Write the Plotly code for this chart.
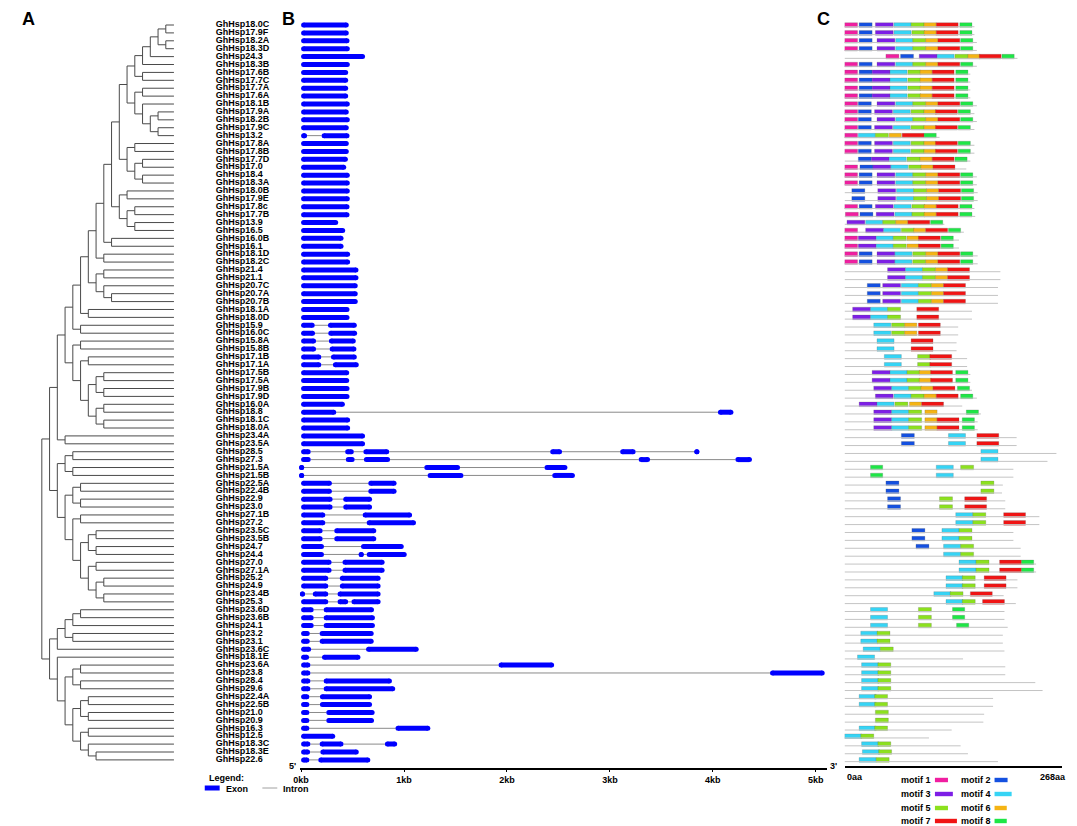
import plotly.graph_objects as go

# reference canvas size; the page places the figure 8 px in from the top-left corner
W_REF, H_REF = 1077, 826
OFF = 8
W, H = W_REF - OFF, H_REF - OFF
FONT = "Arial, 'Liberation Sans', sans-serif"

# ---------------- data ----------------
gene_ids = ["18.0C", "17.9F", "18.2A", "18.3D", "24.3", "18.3B", "17.6B", "17.7C", "17.7A", "17.6A",
            "18.1B", "17.9A", "18.2B", "17.9C", "13.2", "17.8A", "17.8B", "17.7D", "17.0", "18.4",
            "18.3A", "18.0B", "17.9E", "17.8c", "17.7B", "13.9", "16.5", "16.0B", "16.1", "18.1D",
            "18.2C", "21.4", "21.1", "20.7C", "20.7A", "20.7B", "18.1A", "18.0D", "15.9", "16.0C",
            "15.8A", "15.8B", "17.1B", "17.1A", "17.5B", "17.5A", "17.9B", "17.9D", "16.0A", "18.8",
            "18.1C", "18.0A", "23.4A", "23.5A", "28.5", "27.3", "21.5A", "21.5B", "22.5A", "22.4B",
            "22.9", "23.0", "27.1B", "27.2", "23.5C", "23.5B", "24.7", "24.4", "27.0", "27.1A",
            "25.2", "24.9", "23.4B", "25.3", "23.6D", "23.6B", "24.1", "23.2", "23.1", "23.6C",
            "18.1E", "23.6A", "23.8", "28.4", "29.6", "22.4A", "22.5B", "21.0", "20.9", "16.3",
            "12.5", "18.3C", "18.3E", "22.6"]
gene_labels = ["GhHsp" + g for g in gene_ids]

# phylogeny (topology, Newick pieces)
clade_u1 = "((((((18.0C,17.9F),(18.2A,18.3D)),24.3),18.3B),(17.6B,17.7C)),((17.7A,17.6A),(18.1B,((17.9A,18.2B),(17.9C,13.2)))))"
clade_u2 = "((17.8A,17.8B),((17.7D,17.0),(18.4,18.3A)))"
clade_u3 = "((18.0B,17.9E),((17.8c,17.7B),(13.9,16.5)))"
clade_7b = "((21.4,21.1),(20.7C,(20.7A,20.7B)))"
clade_6b = "(((17.5B,17.5A),(17.9B,17.9D)),((16.0A,18.8),(18.1C,18.0A)))"
clade_3b = "((28.5,27.3),(21.5A,21.5B))"
clade_4c = "((22.5A,22.4B),(22.9,23.0))"
clade_5c = "(((23.5C,23.5B),(24.7,24.4)),((27.0,27.1A),((25.2,24.9),(23.4B,25.3))))"
clade_2c = "((((23.6D,23.6B),24.1),(23.2,23.1)),23.6C)"
clade_2d = "(18.1E,(((23.6A,23.8),(28.4,29.6)),(((22.4A,22.5B),(21.0,20.9)),((16.3,12.5),(18.3C,(18.3E,22.6))))))"

clade_9a = "((" + clade_u1 + "," + clade_u2 + ")," + clade_u3 + ")"
clade_8a = "(" + clade_9a + ",(16.0B,16.1))"
clade_7a = "(" + clade_8a + ",(18.1D,18.2C))"
clade_5a = "((" + clade_7a + "," + clade_7b + "),(18.1A,18.0D))"
clade_4a = "(" + clade_5a + ",(15.9,16.0C))"
clade_4b = "((15.8A,15.8B),((17.1B,17.1A)," + clade_6b + "))"
clade_2a = "((" + clade_4a + "," + clade_4b + "),(23.4A,23.5A))"
clade_2b = "(" + clade_3b + ",(" + clade_4c + ",((27.1B,27.2)," + clade_5c + ")))"
tree_newick = "((" + clade_2a + "," + clade_2b + "),(" + clade_2c + "," + clade_2d + "))"

# gene structure: exons (kb)
exons = [
    [(0, .463)], [(0, .463)], [(0, .47)], [(0, .473)], [(0, .621)], [(0, .473)], [(0, .457)], [(0, .457)],
    [(0, .457)], [(0, .457)], [(0, .473)], [(0, .463)], [(0, .473)], [(0, .463)], [(0, .058), (.199, .47)],
    [(0, .463)], [(0, .463)], [(0, .454)], [(0, .438)], [(0, .473)], [(0, .473)], [(0, .473)], [(0, .473)],
    [(0, .47)], [(0, .47)], [(0, .36)], [(0, .428)], [(0, .412)], [(0, .412)], [(0, .476)], [(0, .476)],
    [(0, .557)], [(0, .557)], [(0, .55)], [(0, .55)], [(0, .55)], [(0, .47)], [(0, .47)],
    [(0, .132), (.261, .541)], [(0, .135), (.264, .544)], [(0, .145), (.27, .531)], [(0, .145), (.277, .537)],
    [(0, .196), (.29, .541)], [(0, .196), (.309, .56)], [(0, .467)], [(0, .467)], [(0, .47)], [(0, .47)],
    [(0, .425)], [(0, .341), (4.05, 4.2)], [(0, .476)], [(0, .476)], [(0, .621)], [(0, .621)],
    [(0, .093), (.428, .512), (.605, .856), (2.42, 2.535), (3.1, 3.25), (3.83, 3.86)],
    [(0, .093), (.434, .52), (.61, .864), (3.28, 3.39), (4.22, 4.38)],
    [(0, .01), (1.197, 1.544), (2.365, 2.587)], [(0, .01), (1.229, 1.577), (2.44, 2.66)],
    [(0, .299), (.653, .927)], [(0, .299), (.653, .927)], [(0, .306), (.409, .689)], [(0, .306), (.409, .689)],
    [(0, .235), (.598, 1.078)], [(0, .235), (.637, 1.116)], [(0, .209), (.322, .73)], [(0, .209), (.322, .73)],
    [(0, .222), (.582, .997)], [(0, .222), (.576, .592), (.637, 1.026)], [(0, .296), (.402, .811)],
    [(0, .296), (.402, .811)], [(0, .264), (.376, .772)], [(0, .264), (.376, .772)],
    [(0, .026), (.113, .264), (.354, .772)], [(0, .264), (.354, .457), (.489, .772)],
    [(0, .122), (.219, .708)], [(0, .122), (.219, .717)], [(0, .122), (.219, .717)], [(0, .084), (.18, .705)],
    [(0, .084), (.18, .705)], [(0, .097), (.631, 1.142)], [(0, .077), (.203, .576)], [(0, .09), (1.918, 2.458)],
    [(0, .09), (4.556, 5.087)], [(0, .09), (.219, .882)], [(0, .09), (.219, .914)], [(0, .08), (.183, .689)],
    [(0, .08), (.183, .689)], [(0, .08), (.245, .714)], [(0, .08), (.245, .708)], [(0, .08), (.917, 1.255)],
    [(0, .331)], [(0, .09), (.18, .412), (.814, .933)], [(0, .087), (.187, .56)], [(0, .08), (.167, .672)],
]
kb_ticks = [0, 1, 2, 3, 4, 5]
kb_labels = ["0kb", "1kb", "2kb", "3kb", "4kb", "5kb"]

# protein length (aa) and motif start positions (aa), motif 1..8, None = absent
protein_len = [160, 160, 163, 163, 213, 163, 155, 155, 155, 155, 163, 160, 163, 160, 117, 160, 160, 155, 150, 163,
               163, 164, 164, 160, 161, 123, 147, 141, 141, 164, 164, 192, 192, 189, 189, 189, 157, 157, 140, 140,
               138, 138, 151, 151, 155, 155, 157, 163, 145, 168, 164, 164, 212, 212, 261, 250, 208, 208, 195, 194,
               198, 198, 240, 240, 208, 208, 217, 217, 236, 236, 213, 213, 196, 211, 197, 197, 201, 195, 195, 197,
               146, 198, 198, 235, 244, 183, 183, 172, 171, 132, 104, 143, 152, 189]
N = None
motif_starts = [
    [0, 18, 38, 61, 82, 98, 113, 142], [0, 18, 38, 61, 83, 98, 113, 142], [0, 18, 40, 63, 84, 100, 115, 143],
    [0, 18, 40, 63, 84, 100, 115, 143], [51, 69, 92, 114, 136, 152, 166, 194], [0, 18, 40, 63, 84, 100, 115, 143],
    [0, 18, 34, 56, 78, 93, 108, 137], [0, 18, 34, 56, 78, 93, 108, 137], [0, 18, 34, 56, 78, 93, 108, 137],
    [0, 18, 34, 56, 78, 93, 108, 137], [0, 17, 40, 63, 84, 100, 115, 143], [0, 17, 37, 60, 82, 98, 112, 140],
    [0, 17, 40, 63, 84, 100, 115, 143], [0, 17, 37, 60, 82, 98, 112, 140], [0, N, N, 17, 38, 55, 71, 98],
    [0, 17, 37, 60, 82, 98, 112, 140], [0, 17, 37, 60, 82, 98, 112, 140], [N, 17, 33, 55, 77, 93, 108, 136],
    [0, 19, 35, 57, 79, 94, 109, N], [0, 18, 40, 63, 84, 100, 115, 143], [0, 18, 40, 63, 84, 100, 115, 143],
    [N, 9, 41, 64, 85, 101, 116, 144], [N, 9, 41, 64, 85, 101, 116, 144], [0, 18, 38, 61, 83, 98, 113, 142],
    [1, 19, 39, 62, 83, 98, 113, 142], [N, N, 3, 26, 47, 63, 78, 106], [0, N, 26, 48, 70, 85, 100, 128],
    [0, N, 17, 39, 60, 77, 91, 119], [0, N, 17, 39, 60, 77, 91, 119], [0, 18, 40, 62, 84, 100, 115, 143],
    [0, 18, 40, 62, 84, 100, 115, 143], [N, N, 53, 75, 96, 112, 127, N], [N, N, 53, 75, 96, 112, 127, N],
    [N, 28, 47, 70, 91, 107, 122, N], [N, 28, 47, 70, 91, 107, 122, N], [N, 28, 47, 70, 91, 107, 122, N],
    [N, N, 10, 32, 53, N, 89, N], [N, N, 10, 32, 53, N, 89, N], [N, N, N, 36, 58, 74, 91, N],
    [N, N, N, 36, 58, 74, 91, N], [N, N, N, 40, N, N, 82, N], [N, N, N, 40, N, N, 82, N],
    [N, N, N, 49, 90, N, 105, N], [N, N, N, 49, 90, N, 105, N], [N, N, 34, 56, 77, 92, 106, 137],
    [N, N, 34, 56, 77, 92, 106, 137], [N, N, 36, 58, 79, 94, 109, 139], [N, N, 38, 61, 82, 98, 113, 143],
    [N, N, 18, 40, 62, 80, 95, N], [N, N, 36, 58, 79, 99, N, 150], [N, N, 36, 58, 79, 99, 114, 145],
    [N, N, 36, 58, 79, 99, 114, 145], [N, 70, N, 128, N, N, 163, N], [N, 70, N, 128, N, N, 163, N],
    [N, N, N, 168, N, N, N, N], [N, N, N, 168, N, N, N, N], [N, N, N, 113, 143, N, N, 32],
    [N, N, N, 113, N, N, N, 32], [N, 51, N, N, 168, N, N, N], [N, 51, N, N, 168, N, N, N],
    [N, 53, N, N, 117, N, 148, N], [N, 53, N, N, 117, N, 148, N], [N, N, N, 137, 158, N, 196, N],
    [N, N, N, 137, 158, N, 196, N], [N, 83, N, 120, 141, N, N, N], [N, 83, N, 120, 141, N, N, N],
    [N, 88, N, 122, 143, N, N, N], [N, N, N, 122, 143, N, N, N], [N, N, N, 141, 162, N, 191, 218],
    [N, N, N, 141, 162, N, 191, 218], [N, N, N, 125, 145, N, 172, N], [N, N, N, 125, 145, N, 172, N],
    [N, N, N, 110, 130, N, 155, N], [N, N, N, 125, 145, N, 170, N], [N, N, N, 32, 91, N, N, 133],
    [N, N, N, 32, 91, N, N, 133], [N, N, N, 32, 91, N, N, 138], [N, N, N, 20, 40, N, N, N],
    [N, N, N, 20, 40, N, N, N], [N, N, N, 23, 44, N, N, N], [N, N, N, 16, N, N, N, N],
    [N, N, N, 21, 41, N, N, N], [N, N, N, 21, 41, N, N, N], [N, N, N, 21, 41, N, N, N],
    [N, N, N, 21, 41, N, N, N], [N, N, N, 18, 37, N, N, N], [N, N, N, 18, 37, N, N, N],
    [N, N, N, N, 38, N, N, N], [N, N, N, N, 38, N, N, N], [N, N, N, 18, 37, N, N, N],
    [N, N, N, 0, 20, N, N, N], [N, N, N, 21, 41, N, N, N], [N, N, N, 22, 42, N, N, N],
    [N, N, N, 18, 39, N, N, N],
]
motif_len = [16, 16, 22, 21, 16, 15, 27, 15]
motif_names = ["motif 1", "motif 2", "motif 3", "motif 4", "motif 5", "motif 6", "motif 7", "motif 8"]
motif_colors = ["#f01ea0", "#1450e0", "#7d1ee6", "#36d4f5", "#8ce11e", "#f5b414", "#f01414", "#1ee646"]

# ---------------- geometry constants (layout only, in reference pixels) ----------------
ROW0_PX, ROW_STEP = 25.0, 7.9022
ROOT_PX, DEPTH_PX = 35.0, 7.8
TIP_DEPTH = (168 - ROOT_PX) / DEPTH_PX
LABEL_X = (210 - ROOT_PX) / DEPTH_PX
KB0_PX, KB_PX = 296.0, 103.6
EXON_H = 5
EXON_R = (EXON_H / 2) / KB_PX


def row_at(ypix):
    return 1 + (ypix - ROW0_PX) / ROW_STEP


def px(x):
    return (x - OFF) / W


def py(y):
    return 1 - (y - OFF) / H


rows = list(range(1, len(gene_ids) + 1))
row_of = {g: i + 1 for i, g in enumerate(gene_ids)}


# ---------------- tree ----------------
def parse_newick(s):
    pos = 0

    def node():
        nonlocal pos
        if s[pos] == '(':
            pos += 1
            kids = [node()]
            while pos < len(s) and s[pos] == ',':
                pos += 1
                kids.append(node())
            pos += 1
            return kids
        start = pos
        while pos < len(s) and s[pos] not in ',()':
            pos += 1
        return s[start:pos]
    return node()


tree = parse_newick(tree_newick)
tx, ty = [], []


def place(node, depth):
    if isinstance(node, str):
        return row_of[node]
    ys = [place(c, depth + 1) for c in node]
    tx.extend([depth, depth, None])
    ty.extend([ys[0], ys[-1], None])
    for c, yc in zip(node, ys):
        xend = TIP_DEPTH if isinstance(c, str) else depth + 1
        tx.extend([depth, xend, None])
        ty.extend([yc, yc, None])
    return (ys[0] + ys[-1]) / 2


place(tree, 0)

fig = go.Figure()
fig.add_trace(go.Scatter(x=tx, y=ty, mode="lines", line=dict(color="#4a4a4a", width=1),
                         xaxis="x", yaxis="y", hoverinfo="skip"))
fig.add_trace(go.Scatter(x=[LABEL_X] * len(rows), y=rows, text=gene_labels, mode="text",
                         textposition="middle right",
                         textfont=dict(family=FONT, size=9, color="black", weight="bold"),
                         xaxis="x", yaxis="y", hoverinfo="skip", cliponaxis=False))

# ---------------- gene structure ----------------
ix, iy, ex, ey = [], [], [], []
for r, exs in zip(rows, exons):
    for (s1, e1), (s2, e2) in zip(exs[:-1], exs[1:]):
        ix.extend([e1, s2, None])
        iy.extend([r, r, None])
    for s, e in exs:
        if e - s > 2 * EXON_R:
            ex.extend([s + EXON_R, e - EXON_R, None])
        else:
            m = (s + e) / 2
            ex.extend([m, m, None])
        ey.extend([r, r, None])
fig.add_trace(go.Scatter(x=ix, y=iy, mode="lines", line=dict(color="#8a8a8a", width=1),
                         xaxis="x2", yaxis="y", hoverinfo="skip"))
fig.add_trace(go.Scatter(x=ex, y=ey, mode="lines+markers", line=dict(color="#0000ff", width=EXON_H),
                         marker=dict(color="#0000ff", size=EXON_H, line=dict(width=0)),
                         xaxis="x2", yaxis="y", hoverinfo="skip", cliponaxis=False))

# ---------------- motifs ----------------
lx, ly = [], []
for r, L in zip(rows, protein_len):
    lx.extend([0, L, None])
    ly.extend([r + 0.22, r + 0.22, None])
fig.add_trace(go.Scatter(x=lx, y=ly, mode="lines", line=dict(color="#c4c4c4", width=1),
                         xaxis="x3", yaxis="y", hoverinfo="skip"))
for k in range(8):
    ys_, bs_, ws_ = [], [], []
    for r, st in zip(rows, motif_starts):
        if st[k] is not None:
            ys_.append(r)
            bs_.append(st[k])
            ws_.append(motif_len[k])
    fig.add_trace(go.Bar(y=ys_, x=ws_, base=bs_, orientation="h", width=0.58,
                         marker=dict(color=motif_colors[k], line=dict(color="rgba(90,90,90,0.45)", width=0.5)),
                         xaxis="x3", yaxis="y", hoverinfo="skip", name=motif_names[k]))

# ---------------- annotations & legend keys ----------------
ann = []
shapes = []


def text(x, y, s, size=9, anchor="left"):
    ann.append(dict(x=px(x), y=py(y), xref="paper", yref="paper", text=s, showarrow=False,
                    xanchor=anchor, yanchor="middle",
                    font=dict(family=FONT, size=size, color="black")))


text(22, 19, "<b>A</b>", 18, "center")
text(283, 19, "<b>B</b>", 18, "center")
text(822, 19, "<b>C</b>", 18, "center")
text(293, 766, "<b>5'</b>", 9, "right")
text(826, 766, "<b>3'</b>", 9, "left")
text(843, 777, "<b>0aa</b>", 9, "left")
text(1068, 777, "<b>268aa</b>", 9, "right")

text(201, 778, "<b>Legend:</b>", 9, "left")
shapes.append(dict(type="rect", xref="paper", yref="paper", x0=px(199), x1=px(214), y0=py(790.5), y1=py(785.5),
                   fillcolor="#0000ff", line=dict(width=0)))
text(218, 789, "<b>Exon</b>", 9, "left")
shapes.append(dict(type="line", xref="paper", yref="paper", x0=px(257), x1=px(272), y0=py(788), y1=py(788),
                   line=dict(color="#a0a0a0", width=1)))
text(276, 789, "<b>Intron</b>", 9, "left")

leg_rows = [780, 794, 808, 821]
for k in range(8):
    yy = leg_rows[k // 2]
    x_text_right = 932 if k % 2 == 0 else 992
    text(x_text_right, yy, "<b>" + motif_names[k] + "</b>", 9, "right")
    x0 = x_text_right + 2
    x1 = x0 + motif_len[k] * 0.82
    shapes.append(dict(type="rect", xref="paper", yref="paper", x0=px(x0), x1=px(x1),
                       y0=py(yy + 2.2), y1=py(yy - 2.2), fillcolor=motif_colors[k], line=dict(width=0)))

fig.update_layout(
    width=W, height=H, autosize=False,
    margin=dict(l=0, r=0, t=0, b=0, pad=0),
    paper_bgcolor="white", plot_bgcolor="rgba(0,0,0,0)",
    showlegend=False, barmode="overlay",
    xaxis=dict(domain=[px(OFF), px(290)], range=[(OFF - ROOT_PX) / DEPTH_PX, (290 - ROOT_PX) / DEPTH_PX],
               visible=False, anchor="y"),
    xaxis2=dict(domain=[px(295), px(825)], range=[(295 - KB0_PX) / KB_PX, (825 - KB0_PX) / KB_PX],
                anchor="free", position=py(769), showline=True, linecolor="black", linewidth=2,
                ticks="outside", ticklen=2, tickwidth=1, tickcolor="black",
                tickvals=kb_ticks, ticktext=kb_labels,
                tickfont=dict(family=FONT, size=9, color="black", weight="bold"),
                showgrid=False, zeroline=False),
    xaxis3=dict(domain=[px(843), px(1062)], range=[0, 268], anchor="free", position=py(767),
                showline=True, linecolor="black", linewidth=2, ticks="", showticklabels=False,
                showgrid=False, zeroline=False),
    yaxis=dict(domain=[0, 1], range=[row_at(H_REF), row_at(OFF)], visible=False),
    annotations=ann, shapes=shapes,
)

fig.write_html("out.html")
